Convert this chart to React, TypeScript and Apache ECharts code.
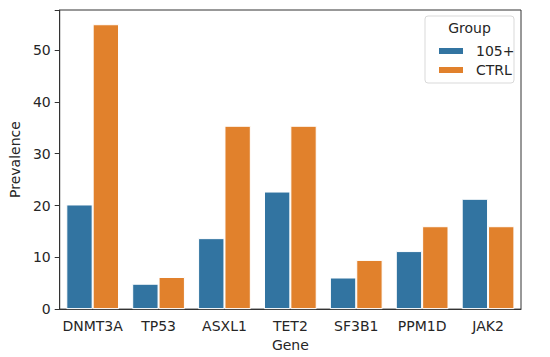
import React, { useEffect, useRef } from "react";
import * as echarts from "echarts";

const genes = ["DNMT3A", "TP53", "ASXL1", "TET2", "SF3B1", "PPM1D", "JAK2"];
const group105 = [20.2, 4.9, 13.7, 22.7, 6.1, 11.2, 21.3];
const groupCtrl = [55.0, 6.2, 35.4, 35.4, 9.5, 16.0, 16.0];
const yTicks = [0, 10, 20, 30, 40, 50];
const seriesNames = ["105+", "CTRL"];
const colors = ["#3274a1", "#e1812c"];

const FONT = "DejaVu Sans";
const TXT = "#262626";

export default function App() {
  const ref = useRef<HTMLDivElement>(null);
  useEffect(() => {
    const chart = echarts.init(ref.current!, null, { renderer: "svg" });
    chart.setOption({
      animation: false,
      backgroundColor: "#fff",
      textStyle: { fontFamily: FONT },
      grid: {
        left: 51,
        top: 10,
        width: 470,
        height: 303,
        show: true,
        borderColor: "#333",
        borderWidth: 1,
        backgroundColor: "transparent",
      },
      xAxis: {
        type: "category",
        data: genes,
        name: "Gene",
        nameLocation: "middle",
        nameGap: 26,
        nameTextStyle: { fontSize: 14, color: TXT, fontFamily: FONT },
        axisLine: { lineStyle: { color: "#333", width: 1 } },
        axisTick: { alignWithLabel: true, length: 5, lineStyle: { color: "#333" } },
        axisLabel: { interval: 0, fontSize: 14, color: TXT, margin: 10, fontFamily: FONT },
        splitLine: { show: false },
      },
      yAxis: {
        type: "value",
        min: 0,
        max: 57.75,
        interval: 10,
        name: "Prevalence",
        nameLocation: "middle",
        nameGap: 36,
        nameTextStyle: { fontSize: 14, color: TXT, fontFamily: FONT },
        axisLine: { show: true, lineStyle: { color: "#333", width: 1 } },
        axisTick: { show: true, length: 5, lineStyle: { color: "#333" } },
        axisLabel: {
          fontSize: 14,
          color: TXT,
          margin: 9,
          fontFamily: FONT,
          formatter: (v: number) => (yTicks.includes(v) ? String(v) : ""),
        },
        splitLine: { show: false },
      },
      legend: {
        orient: "vertical",
        left: 432,
        top: 39,
        itemWidth: 26,
        itemHeight: 8,
        itemGap: 5,
        icon: "rect",
        data: seriesNames,
        textStyle: { fontSize: 14, color: TXT, fontFamily: FONT, padding: [0, 0, 0, 7] },
      },
      graphic: [
        {
          type: "rect",
          shape: { x: 425, y: 16, width: 89, height: 67, r: 3 },
          style: { fill: "rgba(255,255,255,0.8)", stroke: "#d9d9d9", lineWidth: 1 },
          z: 0,
        },
        {
          type: "text",
          x: 469.5,
          y: 28,
          style: {
            text: "Group",
            fontSize: 14,
            fontFamily: FONT,
            fill: TXT,
            align: "center",
            verticalAlign: "middle",
          },
          z: 10,
        },
      ],
      series: [
        {
          name: seriesNames[0],
          type: "bar",
          data: group105,
          barWidth: "40%",
          barGap: "0%",
          itemStyle: { color: colors[0], borderColor: "#fff", borderWidth: 1 },
        },
        {
          name: seriesNames[1],
          type: "bar",
          data: groupCtrl,
          barWidth: "40%",
          barGap: "0%",
          itemStyle: { color: colors[1], borderColor: "#fff", borderWidth: 1 },
        },
      ],
    });
    return () => chart.dispose();
  }, []);
  return (
    <div
      ref={ref}
      style={{ position: "fixed", left: 0, top: 0, width: 550, height: 357 }}
    />
  );
}
